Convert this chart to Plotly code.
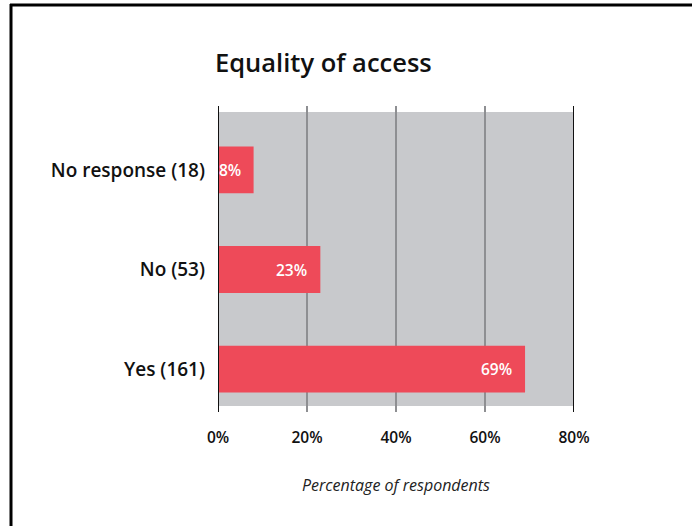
import plotly.graph_objects as go

# Survey responses on equality of access
categories = ["Yes (161)", "No (53)", "No response (18)"]
percentages = [69, 23, 8]
x_ticks = [0, 20, 40, 60, 80]
x_tick_labels = ["0%", "20%", "40%", "60%", "80%"]

W, H = 692, 526
L, R, T, B = 218, 118, 106, 114
plot_h = H - T - B
plot_w = W - L - R

FONT = "Open Sans"
BAR_COLOR = "#EE4A59"
PANEL = "#C8C9CC"


def px_x(px):
    return (px - L) / plot_w


def px_y(py):
    return (H - B - py) / plot_h


fig = go.Figure(
    go.Bar(
        x=percentages,
        y=categories,
        orientation="h",
        marker=dict(color=BAR_COLOR, line=dict(width=0)),
        width=0.47,
        hoverinfo="skip",
    )
)

shapes = [
    # grey panel behind the bars
    dict(type="rect", xref="x", yref="paper", x0=0, x1=80,
         y0=6 / plot_h, y1=1 - 6 / plot_h,
         fillcolor=PANEL, line=dict(width=0), layer="below"),
]
# dark boundary lines at 0% and 80%
for v in (0, 80):
    shapes.append(dict(type="line", xref="x", yref="paper", x0=v, x1=v,
                       y0=0, y1=1, line=dict(color="#111111", width=2),
                       layer="above"))
# frame lines along the top and left edge
shapes.append(dict(type="line", xref="paper", yref="paper",
                   x0=px_x(10), x1=px_x(W + 5), y0=px_y(5), y1=px_y(5),
                   line=dict(color="#000000", width=3)))
shapes.append(dict(type="line", xref="paper", yref="paper",
                   x0=px_x(11), x1=px_x(11), y0=px_y(4), y1=px_y(H + 5),
                   line=dict(color="#000000", width=3)))

annotations = [
    dict(text="Equality of access", xref="paper", yref="paper",
         x=px_x(213), y=px_y(62), xanchor="left", yanchor="middle",
         showarrow=False,
         font=dict(family=FONT, size=25.5, color="#111111", weight=600)),
]
for cat, val in zip(categories, percentages):
    annotations.append(dict(
        text=f"{val}%", x=val, y=cat, xref="x", yref="y",
        xanchor="right", yanchor="middle", xshift=-11, showarrow=False,
        font=dict(family=FONT, size=15.5, color="#ffffff", weight=600)))

fig.update_layout(
    width=W, height=H,
    margin=dict(l=L, r=R, t=T, b=B, pad=0),
    paper_bgcolor="#ffffff",
    plot_bgcolor="rgba(0,0,0,0)",
    showlegend=False,
    shapes=shapes,
    annotations=annotations,
    xaxis=dict(
        range=[0, 80], tickvals=x_ticks, ticktext=x_tick_labels,
        showgrid=True, gridcolor="#8e8f92", gridwidth=2,
        zeroline=False, showline=False, ticks="",
        ticklabelstandoff=14,
        tickfont=dict(family=FONT, size=15.5, color="#111111", weight=600),
        title=dict(text="<i>Percentage of respondents</i>", standoff=33,
                   font=dict(family=FONT, size=16, color="#222222")),
        fixedrange=True,
    ),
    yaxis=dict(
        type="category", categoryorder="array", categoryarray=categories,
        range=[-0.432, 2.643], showgrid=False, zeroline=False,
        showline=False, ticks="", ticklabelstandoff=12,
        tickfont=dict(family=FONT, size=19, color="#111111", weight=600),
        fixedrange=True,
    ),
)

fig.write_html("out.html")
